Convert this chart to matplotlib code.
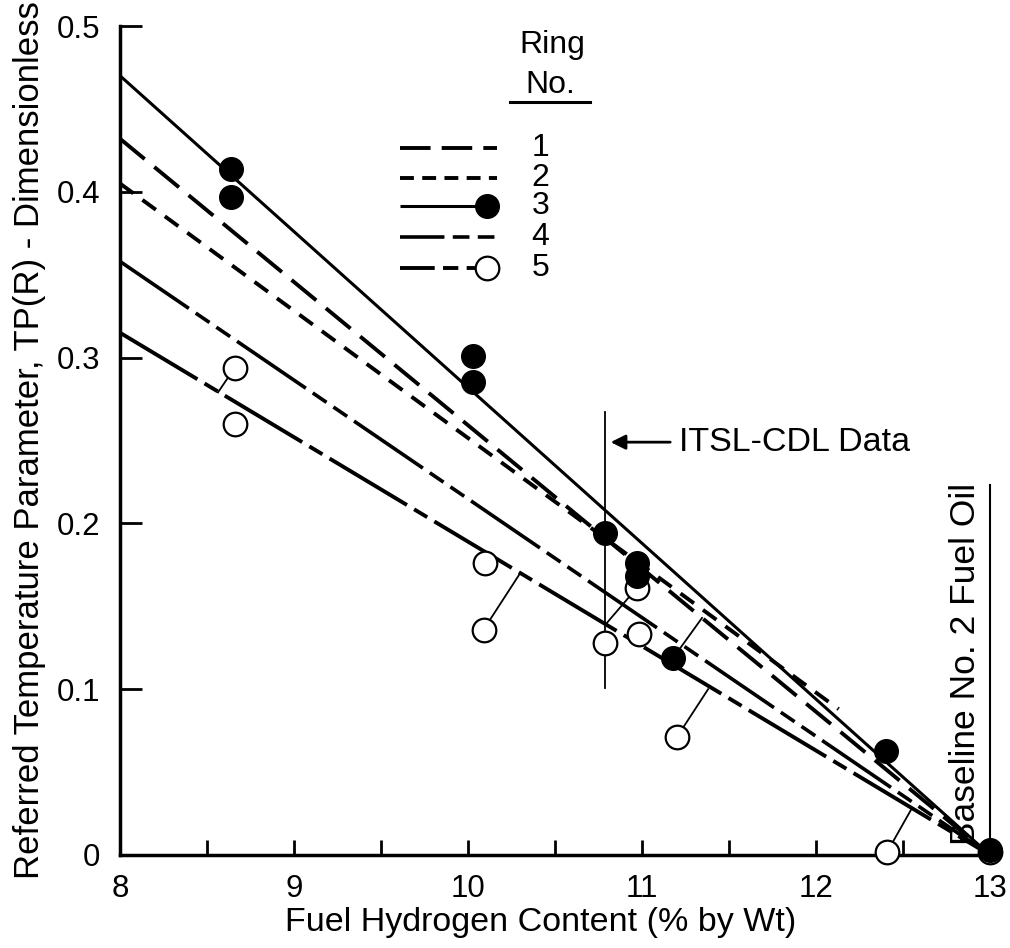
import matplotlib
matplotlib.use('Agg')
import matplotlib.pyplot as plt

plt.rcParams['font.family'] = ['Liberation Sans', 'DejaVu Sans']
plt.rcParams['lines.scale_dashes'] = False

# fitted lines for each ring (start / end points)
rings = ['1', '2', '3', '4', '5']
line_x0 = [8.0, 8.0, 8.0, 8.0, 8.0]
line_y0 = [0.432, 0.405, 0.470, 0.358, 0.315]
line_x1 = [13.0, 12.13, 13.0, 13.0, 13.0]
line_y1 = [0.0, 0.088, 0.0, 0.0, 0.0]

# ring 3 data (filled) and ring 5 data (open)
ring3_x = [8.64, 8.64, 10.03, 10.03, 10.79, 10.97, 10.97, 11.18, 12.40, 13.0]
ring3_y = [0.414, 0.397, 0.301, 0.285, 0.194, 0.176, 0.168, 0.119, 0.063, 0.003]
ring5_x = [8.66, 8.66, 10.10, 10.09, 10.79, 10.97, 10.98, 11.20, 12.41, 13.0]
ring5_y = [0.294, 0.260, 0.176, 0.136, 0.128, 0.161, 0.133, 0.071, 0.002, 0.002]

# leader lines from points to their curve
leader_x0 = [8.66, 10.09, 10.97, 11.18, 11.20, 12.41]
leader_y0 = [0.294, 0.136, 0.161, 0.119, 0.071, 0.002]
leader_x1 = [8.563, 10.30, 10.79, 11.345, 11.38, 12.55]
leader_y1 = [0.279, 0.170, 0.139, 0.143, 0.100, 0.028]

x_ticks = [8, 9, 10, 11, 12, 13]
y_ticks = [0, 0.1, 0.2, 0.3, 0.4, 0.5]
y_ticklabels = ['0', '0.1', '0.2', '0.3', '0.4', '0.5']

styles = [
    dict(ls=(0, (23, 9)), lw=2.8),
    dict(ls=(0, (12, 8)), lw=2.8),
    dict(ls='-', lw=2.2),
    dict(ls=(0, (60, 6, 12, 6, 12, 6)), lw=2.6),
    dict(ls=(0, (65, 6, 11, 6)), lw=2.8),
]
legend_styles = [
    dict(ls=(0, (22, 8)), lw=2.8),
    dict(ls=(0, (10, 6)), lw=2.8),
    dict(ls='-', lw=2.2),
    dict(ls=(28, (60, 6, 12, 6, 12, 6)), lw=2.6),
    dict(ls=(40, (65, 6, 11, 6)), lw=2.8),
]

fig = plt.figure(figsize=(10.1, 9.48), dpi=100)
ax = fig.add_axes([120 / 1010, 1 - 855 / 948, 870 / 1010, 829 / 948])

for i in range(len(rings)):
    ax.plot([line_x0[i], line_x1[i]], [line_y0[i], line_y1[i]], color='black',
            solid_capstyle='butt', dash_capstyle='butt', zorder=2, **styles[i])

for i in range(len(leader_x0)):
    ax.plot([leader_x0[i], leader_x1[i]], [leader_y0[i], leader_y1[i]],
            color='black', lw=1.3, zorder=3)

ax.plot(ring5_x, ring5_y, 'o', ms=17, mfc='white', mec='black', mew=1.6,
        zorder=4, clip_on=False)
ax.plot(ring3_x, ring3_y, 'o', ms=17, mfc='black', mec='black',
        zorder=5, clip_on=False)

# ITSL-CDL marker line and label
ax.plot([10.79, 10.79], [0.101, 0.267], color='black', lw=1.3, zorder=3)
ax.annotate('ITSL-CDL Data', xy=(10.82, 0.249), xytext=(11.21, 0.249),
            fontsize=24.5, ha='left', va='center',
            arrowprops=dict(arrowstyle='-|>', color='black', lw=2,
                            mutation_scale=22, shrinkA=4, shrinkB=0))

# baseline fuel line
ax.plot([13.0, 13.0], [0, 0.223], color='black', lw=1.5, clip_on=False, zorder=3)
ax.text(12.862, 0.006, 'Baseline No. 2 Fuel Oil', rotation=90, fontsize=25.5,
        ha='center', va='bottom')

# hand-made legend
tr = ax.transAxes
ax.text(0.497, 0.977, 'Ring', transform=tr, fontsize=23, ha='center', va='center')
ax.text(0.494, 0.929, 'No.', transform=tr, fontsize=23, ha='center', va='center')
ax.plot([0.448, 0.540], [0.908, 0.908], transform=tr, color='black', lw=2.2)
row_y = [0.853, 0.817, 0.783, 0.746, 0.708]
for i in range(len(rings)):
    ax.plot([0.322, 0.433], [row_y[i], row_y[i]], transform=tr, color='black',
            solid_capstyle='butt', dash_capstyle='butt', **legend_styles[i])
    ax.text(0.483, row_y[i], rings[i], transform=tr, fontsize=23,
            ha='center', va='center')
ax.plot([0.422], [row_y[2]], 'o', transform=tr, ms=17, color='black')
ax.plot([0.422], [row_y[4]], 'o', transform=tr, ms=17, mfc='white',
        mec='black', mew=1.6)

ax.set_xlim(8, 13)
ax.set_ylim(0, 0.5)
ax.set_xticks(x_ticks)
ax.set_xticks([8.5 + k for k in range(5)], minor=True)
ax.set_yticks(y_ticks)
ax.set_yticklabels(y_ticklabels)
ax.tick_params(axis='y', direction='in', length=16, width=2, labelsize=22.5, pad=14)
ax.tick_params(axis='x', which='both', direction='in', length=11, width=2,
               labelsize=22.5, pad=14)
for s in ['top', 'right']:
    ax.spines[s].set_visible(False)
for s in ['left', 'bottom']:
    ax.spines[s].set_linewidth(2.5)

ax.set_xlabel('Fuel Hydrogen Content (% by Wt)', fontsize=24.5)
ax.xaxis.set_label_coords(0.484, -0.063)
ax.set_ylabel('Referred Temperature Parameter, TP(R) - Dimensionless',
              fontsize=25, labelpad=8)

plt.savefig('out.png', dpi=100)
